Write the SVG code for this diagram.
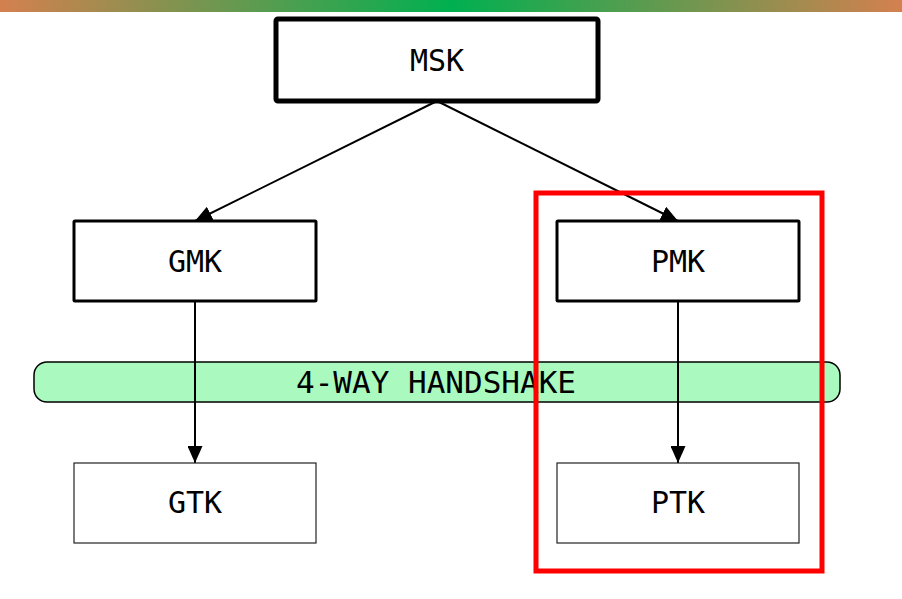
<svg xmlns="http://www.w3.org/2000/svg" width="902" height="599" viewBox="0 0 902 599">
<defs>
<linearGradient id="bar" x1="0" y1="0" x2="1" y2="0">
<stop offset="0" stop-color="#d4804f"/>
<stop offset="0.5" stop-color="#00b050"/>
<stop offset="1" stop-color="#d4804f"/>
</linearGradient>
<marker id="arr" viewBox="0 0 17 15" refX="17" refY="7.5" markerWidth="17" markerHeight="15" markerUnits="userSpaceOnUse" orient="auto">
<path d="M0,0 L17,7.5 L0,15 Z" fill="#000"/>
</marker>
<style>
.lbl{font-family:"DejaVu Sans Mono",monospace;font-size:30px;fill:#000;text-anchor:middle;dominant-baseline:central}
.conn{stroke:#000;stroke-width:2;fill:none;marker-end:url(#arr)}
</style>
</defs>
<rect x="0" y="0" width="902" height="12" fill="url(#bar)"/>
<g id="handshake">
<rect x="34" y="362" width="806" height="40" rx="13" fill="#aaf9bf" stroke="#000" stroke-width="1.5"/>
<text class="lbl" x="436" y="382" style="font-size:31px">4-WAY HANDSHAKE</text>
</g>
<g id="connectors">
<line class="conn" x1="437" y1="101" x2="195" y2="221"/>
<line class="conn" x1="437" y1="101" x2="678" y2="221"/>
<line class="conn" x1="195" y1="301" x2="195" y2="463"/>
<line class="conn" x1="678" y1="301" x2="678" y2="463"/>
</g>
<g id="msk">
<rect x="276" y="19" width="322" height="82" rx="2" fill="#fff" stroke="#000" stroke-width="5"/>
<text class="lbl" x="437" y="60">MSK</text>
</g>
<g id="gmk">
<rect x="74" y="221" width="242" height="80" rx="1" fill="#fff" stroke="#000" stroke-width="3"/>
<text class="lbl" x="195" y="261">GMK</text>
</g>
<g id="pmk">
<rect x="557" y="221" width="242" height="80" rx="1" fill="#fff" stroke="#000" stroke-width="3"/>
<text class="lbl" x="678" y="261">PMK</text>
</g>
<g id="gtk">
<rect x="74" y="463" width="242" height="80" fill="#fff" stroke="#222" stroke-width="1.2"/>
<text class="lbl" x="195" y="502">GTK</text>
</g>
<g id="ptk">
<rect x="557" y="463" width="242" height="80" fill="#fff" stroke="#222" stroke-width="1.2"/>
<text class="lbl" x="678" y="502">PTK</text>
</g>
<g id="highlight">
<rect x="536" y="193" width="286" height="378" fill="none" stroke="#ff0000" stroke-width="5"/>
</g>
</svg>
